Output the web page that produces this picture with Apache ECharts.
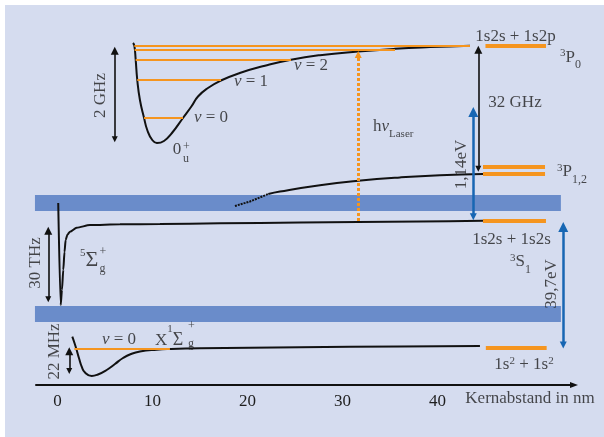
<!DOCTYPE html>
<html><head><meta charset="utf-8">
<script src="https://cdn.jsdelivr.net/npm/echarts@6/dist/echarts.min.js"></script>
<style>
html,body{margin:0;padding:0;background:#fff}
#c{width:604px;height:437px;background:linear-gradient(#d5dcef,#d5dcef) 5px 5px / 599px 432px no-repeat,#fff}
</style>
</head><body><div id="c"></div>
<script>
// x: Kernabstand (nm); y: energy in arbitrary schematic units
const xTicks = [0, 10, 20, 30, 40];

// potential curves [x, E]
const curve0u = [[7.96,342],[8.10,339.3],[8.24,325.7],[8.41,305],[8.69,285],[9.12,267.3],[9.46,255],[9.99,245],[10.48,242],[11.22,244],[12.06,252],[13.22,267],[14.14,279],[14.8,288.5],[15.85,297],[17.22,304.5],[19.2,312],[21.85,319.3],[24.59,325.3],[27.64,329.8],[31.64,333.5],[35.54,336.2],[39.22,337.9],[43.43,339.3]];
const curve5Sg = [[0.09,182],[0.35,80],[0.48,95],[0.62,115],[0.75,133],[0.87,145],[1.06,150.5],[1.33,153.3],[2.03,157.3],[3.43,160],[6.59,160.7],[10.8,161],[17.12,161.7],[25.54,162.5],[31.64,163],[38.17,163.5],[44.8,164.2]];
const curveX = [[1.57,48.3],[1.8,42],[2.03,35],[2.27,27],[2.56,18.3],[2.91,12.5],[3.61,9],[4.27,10.5],[5.19,15],[6.06,21],[6.91,27],[7.75,31],[8.69,33.5],[10.45,35.3],[11.85,36],[15.01,36.7],[25.54,37.8],[36.06,38.5],[44.48,39]];
const curveP12Dotted = [[18.69,179],[20.27,183.5],[22.2,191]];
const curveP12 = [[22.2,191],[23.43,193.5],[27.64,199.8],[31.67,204.2],[36.06,207.6],[40.27,209.8],[44.8,211]];

// levels [xStart, xEnd, E]
const vibLevels = [[8.10,43.43,339.3],[8.13,35.54,335.5],[8.24,24.59,325.7],[8.41,17.22,305],[9.12,13.22,267.3],[1.78,11.85,36]];
const atomLevels = [[45.06,51.43,339.4],[44.8,51.33,218],[44.8,51.33,211.3],[44.8,51.43,164.3],[45.1,51.5,37.3]];
// bands [xStart, xEnd, Elow, Ehigh]
const bands = [[-2.36,53.0,174,190],[-2.36,53.0,63,79]];
// arrows [x, Efrom, Eto]
const blackArrows = [[6.04,245.7,334.3],[44.31,216.3,335.3],[-0.96,85.7,154.3],[1.25,14,33.7]];
const blueArrows = [[43.78,168.3,273],[53.25,40,158]];
const laserArrow = [[31.67,164,330.5]];

const F = '"Liberation Serif","Times New Roman",serif';
const TXT = '#1e1e1e';
const ORANGE = '#f5951f';
const BLUE = '#1766b3';
const BAND = '#6a8cca';

const RICH = {
  m:   {fontFamily:F,fontSize:17,color:TXT,padding:[6,0,6,0],verticalAlign:'top'},
  i:   {fontFamily:F,fontSize:17,fontStyle:'italic',color:TXT,padding:[6,0,6,0],verticalAlign:'top'},
  sup: {fontFamily:F,fontSize:11,color:TXT,padding:[5,0,0,0],verticalAlign:'top'},
  sub: {fontFamily:F,fontSize:12,color:TXT,padding:[16,0,0,0],verticalAlign:'top'},
  subL:{fontFamily:F,fontSize:11,color:TXT,padding:[16,0,0,0],verticalAlign:'top'},
  big: {fontFamily:F,fontSize:22,color:TXT,padding:[4,0,4,0],verticalAlign:'top'},
  sup5:{fontFamily:F,fontSize:11,color:TXT,padding:[2,0,0,0],verticalAlign:'top'},
  mX:  {fontFamily:F,fontSize:17,color:TXT,padding:[14,0,14,0],verticalAlign:'top'},
  bigX:{fontFamily:F,fontSize:18,color:TXT,padding:[13,0,13,0],verticalAlign:'top'},
  sup1:{fontFamily:F,fontSize:11,color:TXT,padding:[5,0,0,0],verticalAlign:'top'}
};

const annotations = [
 {at:[48.22,348.5], t:'{m|1s2s + 1s2p}'},
 {at:[52.91,327.5], t:'{sup|3}{m|P}{sub|0}', align:'left'},
 {at:[52.59,213], t:'{sup|3}{m|P}{sub|1,2}', align:'left'},
 {at:[48.17,282], t:'{m|32 GHz}'},
 {at:[33.22,258], t:'{m|h}{i|ν}{subL|Laser}', align:'left'},
 {at:[42.56,220.5], t:'1,14eV', rot:90},
 {at:[47.8,145], t:'{m|1s2s + 1s2s}'},
 {at:[47.64,123], t:'{sup|3}{m|S}{sub|1}', align:'left'},
 {at:[52.03,101], t:'39,7eV', rot:90},
 {at:[49.12,20], t:'{m|1s}{sup|2}{m| + 1s}{sup|2}'},
 {at:[49.75,-14], t:'Kernabstand in nm'},
 {at:[4.49,289.5], t:'2 GHz', rot:90},
 {at:[16.17,267], t:'{i|v}{m| = 0}'},
 {at:[20.38,303], t:'{i|v}{m| = 1}'},
 {at:[26.7,319], t:'{i|v}{m| = 2}'},
 {at:[12.59,235], t:'{m|0}'},
 {at:[13.22,232.25], t:'+\nu', align:'left', stack:12.5},
 {at:[4.31,124.5], t:'{sup5|5}{big|Σ}', align:'right'},
 {at:[4.43,125], t:'+\ng', align:'left', stack:17},
 {at:[10.27,44], t:'{mX|X}{sup1|1}{bigX|Σ}', align:'left'},
 {at:[13.75,50], t:'+\ng', align:'left', stack:18},
 {at:[6.49,45], t:'{i|v}{m| = 0}'},
 {at:[-2.3,122], t:'30 THz', rot:90},
 {at:[-0.3,33.5], t:'22 MHz', rot:90}
];

function curve(data, extra){
  return Object.assign({type:'line',data:data,showSymbol:false,symbol:'none',smooth:0.5,
    lineStyle:{color:'#111',width:2},z:3,silent:true,clip:false}, extra||{});
}
function hLines(levels, width, z){
  return {type:'lines',coordinateSystem:'cartesian2d',z:z,silent:true,
    data:levels.map(l=>({coords:[[l[0],l[2]],[l[1],l[2]]]})),
    lineStyle:{color:ORANGE,width:width,opacity:1}};
}
function vArrows(arr, color, width, sym, size, type){
  return {type:'lines',coordinateSystem:'cartesian2d',z:6,silent:true,
    data:arr.map(a=>({coords:[[a[0],a[1]],[a[0],a[2]]]})),
    symbol:sym,symbolSize:size,
    lineStyle:{color:color,width:width,opacity:1,type:type||'solid'}};
}

const chart = echarts.init(document.getElementById('c'), null, {renderer:'canvas'});
chart.setOption({
  animation:false,
  backgroundColor:'transparent',
  grid:{left:36,right:30,top:5,bottom:52},
  xAxis:{type:'value',min:-2.25,max:54.38,
    axisLine:{show:true,lineStyle:{color:'#111',width:2},symbol:['none','triangle'],symbolSize:[6,8]},
    axisTick:{show:false},splitLine:{show:false},
    axisLabel:{customValues:xTicks,fontFamily:F,fontSize:17,color:TXT,margin:8}},
  yAxis:{type:'value',min:0,max:380,show:false,splitLine:{show:false}},
  series:[
    {type:'custom',z:1,silent:true,clip:false,data:bands,encode:{x:[0,1],y:[2,3]},
     renderItem:function(p,api){
       const a=api.coord([api.value(0),api.value(3)]);
       const b=api.coord([api.value(1),api.value(2)]);
       return {type:'rect',shape:{x:a[0],y:a[1],width:b[0]-a[0],height:b[1]-a[1]},style:{fill:BAND}};
     }},
    curve(curve0u),
    curve(curve5Sg,{smooth:0.25,smoothMonotone:'x'}),
    curve(curveX),
    curve(curveP12Dotted,{smooth:false,lineStyle:{color:'#111',width:2,type:[2,1]}}),
    curve(curveP12),
    hLines(vibLevels,2.2,4),
    hLines(atomLevels,4,4),
    vArrows(blackArrows,'#111',1.6,['triangle','triangle'],[6,8]),
    vArrows(blueArrows,BLUE,2.5,['triangle','triangle'],[7,10]),
    vArrows(laserArrow,ORANGE,3,['none','triangle'],[9,7],[3,2]),
    {type:'scatter',z:10,silent:true,clip:false,symbolSize:1,itemStyle:{color:'transparent'},
     data:annotations.map(a=>{
       const lab={show:true,position:'inside',formatter:a.t,
         align:a.align||'center',verticalAlign:'middle',rotate:a.rot||0,
         fontFamily:F,fontSize:a.stack?12:17,color:TXT,rich:RICH};
       if(a.stack) lab.lineHeight=a.stack;
       return {value:a.at,label:lab};
     })}
  ]
});
</script>
</body></html>
